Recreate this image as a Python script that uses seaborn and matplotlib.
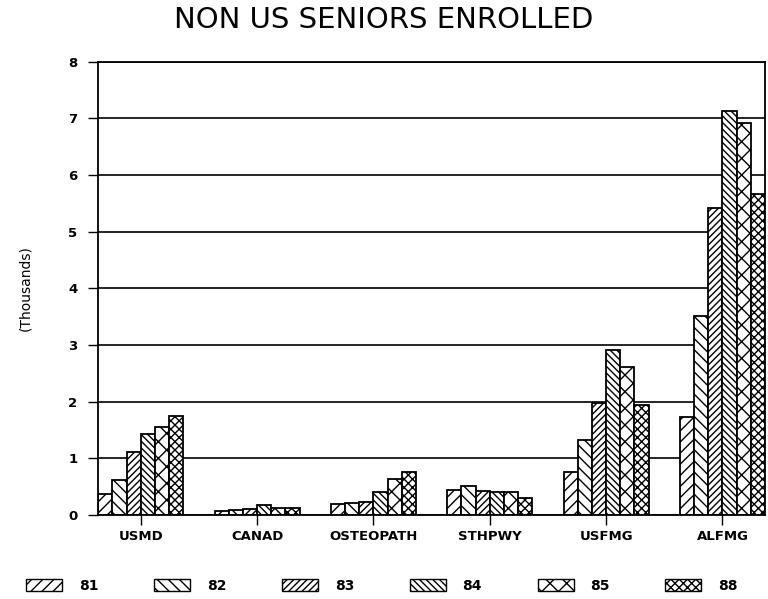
import pandas as pd
import numpy as np
import matplotlib.pyplot as plt
import seaborn as sns
from matplotlib.patches import Patch

# values (thousands)
groups = ['USMD', 'CANAD', 'OSTEOPATH', 'STHPWY', 'USFMG', 'ALFMG']
years = ['81', '82', '83', '84', '85', '88']
y81 = [0.38, 0.08, 0.20, 0.44, 0.76, 1.73]
y82 = [0.62, 0.09, 0.22, 0.51, 1.33, 3.51]
y83 = [1.12, 0.10, 0.24, 0.43, 1.97, 5.41]
y84 = [1.43, 0.18, 0.41, 0.41, 2.92, 7.13]
y85 = [1.55, 0.12, 0.63, 0.40, 2.62, 6.92]
y88 = [1.75, 0.12, 0.76, 0.30, 1.94, 5.67]
hatches = ['///', '\\\\\\', '/////', '\\\\\\\\\\', 'xx', 'xxxx']

rows = []
for yr, vals in zip(years, [y81, y82, y83, y84, y85, y88]):
    for g, v in zip(groups, vals):
        rows.append({'group': g, 'year': yr, 'value': v})
df = pd.DataFrame(rows)

sns.set_style('white')
plt.rcParams['font.family'] = ['DejaVu Sans']
plt.rcParams['hatch.linewidth'] = 1.0
plt.rcParams['text.color'] = 'black'
plt.rcParams['axes.labelcolor'] = 'black'
plt.rcParams['xtick.color'] = 'black'
plt.rcParams['ytick.color'] = 'black'

fig = plt.figure(figsize=(7.68, 5.99), dpi=100)
ax = fig.add_axes([0.128, 0.140, 0.868, 0.757])

sns.barplot(data=df, x='group', y='value', hue='year', order=groups,
            hue_order=years, width=0.73, gap=0, ax=ax, legend=False,
            edgecolor='black', linewidth=1.3, errorbar=None)

for cont, h in zip(ax.containers, hatches):
    for bar in cont:
        bar.set_facecolor('white')
        bar.set_edgecolor('black')
        bar.set_hatch(h)

ax.set_xlim(-0.365, 5.365)
ax.set_ylim(0, 8)
ax.set_yticks(range(0, 9))
ax.yaxis.grid(True, color='black', linewidth=1.2)
ax.set_axisbelow(True)
for s in ax.spines.values():
    s.set_color('black')
    s.set_linewidth(1.3)
ax.tick_params(axis='both', direction='out', length=7, width=1, color='black',
               labelsize=9.5, bottom=True, left=True)
ax.tick_params(axis='y', pad=8)
for lab in ax.get_xticklabels() + ax.get_yticklabels():
    lab.set_fontweight('bold')
ax.set_xlabel('')
ax.set_ylabel('(Thousands)', fontsize=10, labelpad=26)

fig.text(0.5, 0.966, 'NON US SENIORS ENROLLED', ha='center', va='center',
         fontsize=21)

handles = [Patch(facecolor='white', edgecolor='black', hatch=h) for h in hatches]
fig.legend(handles, years, loc='center left', bbox_to_anchor=(0.018, 0.022),
           ncol=6, frameon=False, handlelength=2.6, handleheight=0.85,
           columnspacing=4.0, handletextpad=1.2, prop={'weight': 'bold', 'size': 10})

fig.savefig('out.png', dpi=100)
